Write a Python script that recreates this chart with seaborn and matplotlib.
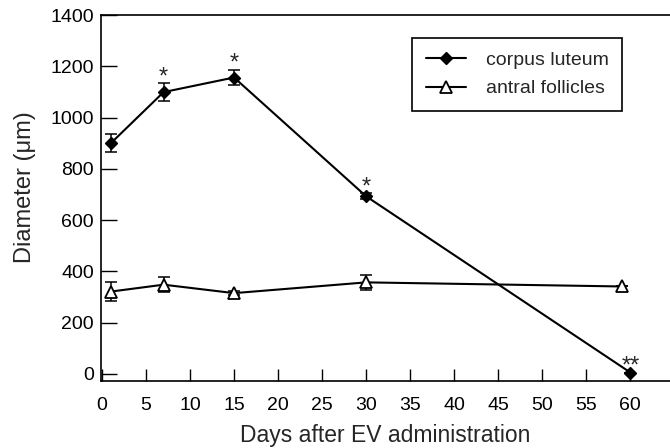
import pandas as pd
import matplotlib
matplotlib.use("Agg")
import matplotlib.pyplot as plt
import seaborn as sns

# data (mean diameter, error bar half-length)
days_cl = [1, 7, 15, 30, 60]
cl_mean = [900, 1100, 1157, 693, 5]
cl_err = [35, 35, 30, 12, 0]
cl_sig = ["", "*", "*", "*", "**"]

days_af = [1, 7, 15, 30, 59]
af_mean = [321, 348, 315, 357, 341]
af_err = [36, 30, 8, 30, 0]

x_ticks = list(range(0, 61, 5))
y_ticks = list(range(0, 1401, 200))

sns.set_theme(style="ticks")
plt.rcParams['font.family'] = ['Liberation Sans', 'DejaVu Sans']

df_cl = pd.DataFrame({'day': days_cl, 'diameter': cl_mean})
df_af = pd.DataFrame({'day': days_af, 'diameter': af_mean})

fig = plt.figure(figsize=(6.7, 4.48), dpi=100)
ax = fig.add_axes([0.1507, 0.1502, 0.8493, 0.8157])

# error bars under the markers
ax.errorbar(days_cl, cl_mean, yerr=cl_err, fmt='none', ecolor='black',
            elinewidth=1.1, capsize=4, capthick=1.1, zorder=1.5)
ax.errorbar(days_af, af_mean, yerr=af_err, fmt='none', ecolor='black',
            elinewidth=1.1, capsize=4, capthick=1.1, zorder=1.5)

sns.lineplot(data=df_cl, x='day', y='diameter', ax=ax, color='black',
             linewidth=1.5, marker='D', markersize=6.5,
             markerfacecolor='black', markeredgecolor='black',
             markeredgewidth=1, label='corpus luteum')
sns.lineplot(data=df_af, x='day', y='diameter', ax=ax, color='black',
             linewidth=1.5, marker='^', markersize=9,
             markerfacecolor='white', markeredgecolor='black',
             markeredgewidth=1.3, label='antral follicles')

# significance marks
for d, m, e, s in zip(days_cl, cl_mean, cl_err, cl_sig):
    if s:
        ax.annotate(s, xy=(d, m + e), xytext=(0, 0), textcoords='offset points',
                    ha='center', va='baseline', fontsize=17)

ax.set_xlim(-0.11, 64.5)
ax.set_ylim(-27, 1400)
ax.set_xticks(x_ticks)
ax.set_yticks(y_ticks)

ax.set_xlabel("Days after EV administration", fontsize=16.5, labelpad=7)
ax.set_ylabel("Diameter (μm)", fontsize=17)
ax.yaxis.set_label_coords(-0.114, 0.53)

ax.tick_params(axis='y', direction='in', length=11.5, width=1, pad=5,
               labelsize=14, colors='black')
ax.tick_params(axis='x', direction='in', length=9, width=1, pad=12,
               labelsize=14, colors='black')
ax.spines['right'].set_visible(False)
for sp in ['left', 'bottom', 'top']:
    ax.spines[sp].set_linewidth(1.2)
    ax.spines[sp].set_color('black')

leg = ax.legend(loc='upper left', bbox_to_anchor=(0.5466, 0.938),
                borderaxespad=0, fontsize=14, frameon=True, fancybox=False,
                framealpha=1, edgecolor='black', handlelength=2.1,
                handletextpad=1.0, borderpad=0.7, labelspacing=0.55)
leg.get_frame().set_linewidth(1.2)

fig.savefig("out.png", dpi=100)
